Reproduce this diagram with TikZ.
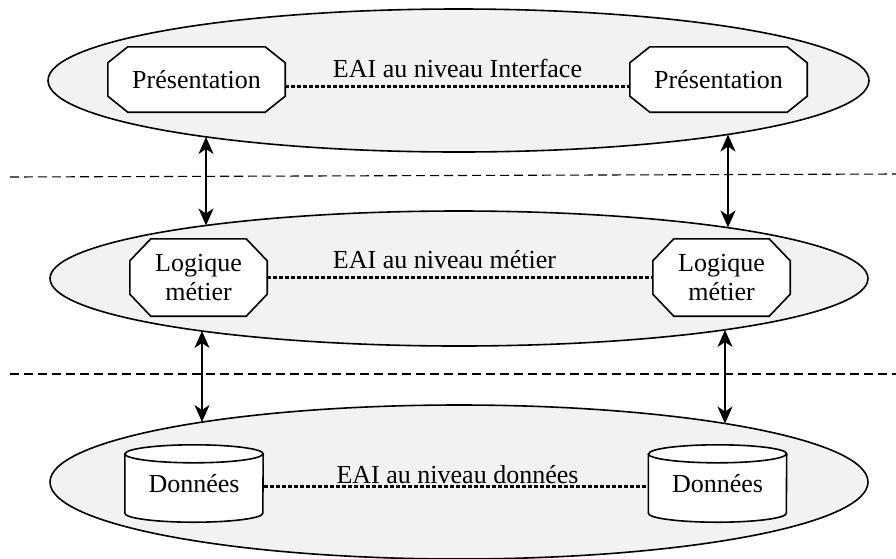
\documentclass[tikz,border=0pt]{standalone}
\usepackage{fontspec}
\setmainfont{Liberation Serif}
\usetikzlibrary{shapes.geometric,arrows.meta,calc}

\definecolor{layerfill}{RGB}{242,242,242}

\pgfdeclarelayer{back}
\pgfdeclarelayer{mid}
\pgfsetlayers{back,mid,main}

\tikzset{
  txt/.style={font=\rmfamily\fontsize{26}{29}\selectfont},
  layer/.style={ellipse, draw, line width=1.6pt, fill=layerfill, inner sep=0pt},
  boxline/.style={line width=1.6pt, fill=white},
  octo/.style={rectangle, inner sep=0pt, txt, align=center},
  dbbox/.style={rectangle, inner sep=0pt, minimum width=138pt, minimum height=77pt, txt},
  eai/.style={line width=3pt, dash pattern=on 4pt off 2pt},
  link/.style={line width=1.4pt,
    {Stealth[length=17pt,width=15pt,inset=5pt]}-{Stealth[length=17pt,width=15pt,inset=5pt]}},
  sep/.style={line width=1.1pt, dash pattern=on 9pt off 5pt},
}

% octagon outline around a node: #2 = horizontal cut, #3 = vertical cut
\newcommand{\octoline}[3]{%
  \draw[boxline]
    ($(#1.north west)+(#2,0)$) -- ($(#1.north east)+(-#2,0)$)
    -- ($(#1.north east)+(0,#3)$) -- ($(#1.south east)+(0,-#3)$)
    -- ($(#1.south east)+(-#2,0)$) -- ($(#1.south west)+(#2,0)$)
    -- ($(#1.south west)+(0,-#3)$) -- ($(#1.north west)+(0,#3)$) -- cycle;
}

% database cylinder around a node
\newcommand{\dbcyl}[1]{%
  \draw[boxline]
    ($(#1.north west)+(0,9)$) -- ($(#1.south west)+(0,-9)$)
    arc[start angle=180, end angle=360, x radius=69pt, y radius=9pt]
    -- ($(#1.north east)+(0,9)$)
    arc[start angle=0, end angle=180, x radius=69pt, y radius=9pt] -- cycle;
  \draw[line width=1.6pt]
    ($(#1.north west)+(0,9)$) arc[start angle=180, end angle=360, x radius=69pt, y radius=9pt];
}

\begin{document}
\begin{tikzpicture}[x=1pt, y=-1pt]
\useasboundingbox (0,0) rectangle (896,558);

% three tiers
\begin{pgfonlayer}{back}
\node[layer, minimum width=821pt, minimum height=143pt] (L1) at (458.5,80.5) {};
\node[layer, minimum width=818pt, minimum height=135pt] (L2) at (459,278.5) {};
\node[layer, minimum width=818pt, minimum height=154pt] (L3) at (459,482) {};
\end{pgfonlayer}

% tier separators
\coordinate (s1a) at (10,177);
\coordinate (s1b) at (896,174);
\coordinate (s2a) at (10,374);
\coordinate (s2b) at (896,374);
\draw[sep] (s1a) -- (s1b);
\draw[sep] (s2a) -- (s2b);

% presentation tier
\node[octo, minimum width=177pt, minimum height=65pt] (p1) at (196.5,79.5) {Présentation};
\node[octo, minimum width=177pt, minimum height=65pt] (p2) at (718.5,79.5) {Présentation};
\node[txt, anchor=base] (t1) at (457.5,77) {EAI au niveau Interface};

% business tier
\node[octo, minimum width=137pt, minimum height=77pt] (m1) at (198.5,277.5) {Logique\\métier};
\node[octo, minimum width=137pt, minimum height=77pt] (m2) at (721.5,277.5) {Logique\\métier};
\node[txt, anchor=base] (t2) at (444.5,268) {EAI au niveau métier};

% data tier
\node[dbbox] (d1) at (194,483.5) {Données};
\node[dbbox] (d2) at (717.5,483.5) {Données};
\node[txt, anchor=base] (t3) at (457.5,483) {EAI au niveau données};

\begin{pgfonlayer}{mid}
\octoline{p1}{20}{16}
\octoline{p2}{20}{16}
\octoline{m1}{21}{22}
\octoline{m2}{21}{22}
\dbcyl{d1}
\dbcyl{d2}
\end{pgfonlayer}

% EAI links inside each tier
\draw[eai] ($(p1.east)+(0,6.5)$) -- ($(p2.west)+(0,6.5)$);
\draw[eai] (m1.east) -- (m2.west);
\draw[eai] ($(d1.east)+(1,2.5)$) -- ($(d2.west)+(-2,2.5)$);

% links between tiers (end points on the tier outlines)
\coordinate (a1t) at (206,137);
\coordinate (a1b) at (206,225.5);
\coordinate (a2t) at (728,134.5);
\coordinate (a2b) at (728,227.5);
\coordinate (b1t) at (202,331);
\coordinate (b1b) at (202,422);
\coordinate (b2t) at (725,330);
\coordinate (b2b) at (725,423.5);
\draw[link] (a1t) -- (a1b);
\draw[link] (a2t) -- (a2b);
\draw[link] (b1t) -- (b1b);
\draw[link] (b2t) -- (b2b);
\end{tikzpicture}
\end{document}
